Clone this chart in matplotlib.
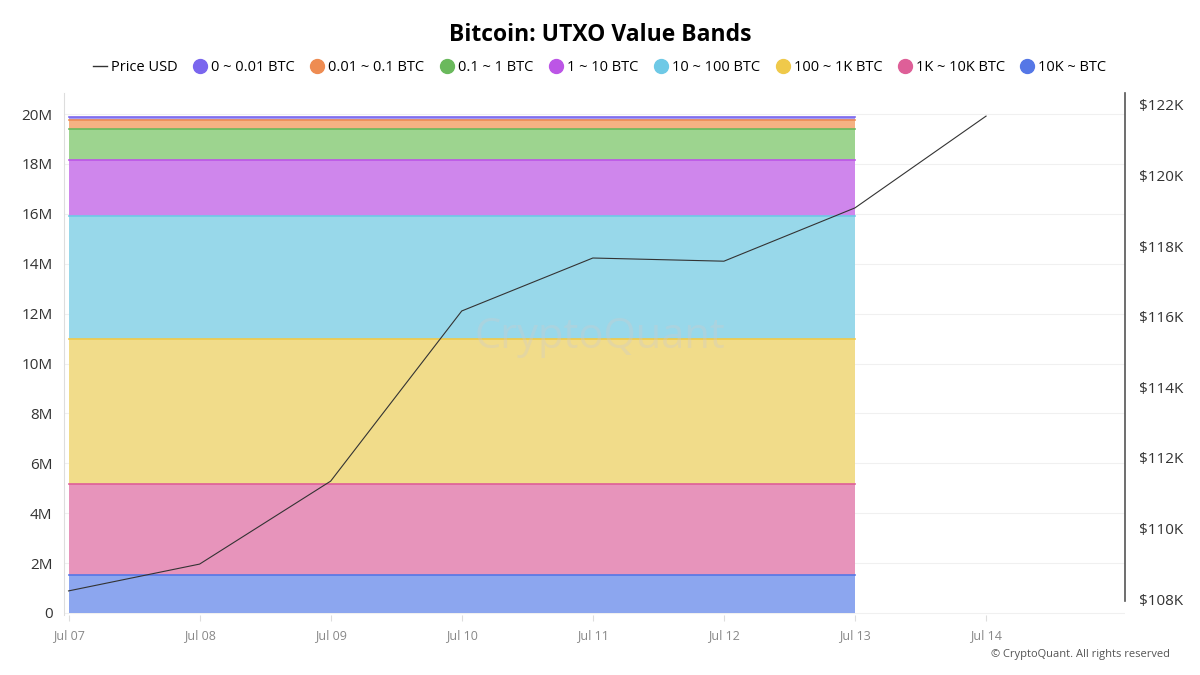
import matplotlib
matplotlib.use("Agg")
import matplotlib.pyplot as plt
import matplotlib.dates as mdates
from matplotlib.lines import Line2D
import numpy as np
import pandas as pd

plt.rcParams['font.family'] = ['Open Sans', 'DejaVu Sans']

dates = pd.date_range("2025-07-07", "2025-07-13", freq="D")
price_dates = pd.date_range("2025-07-07", "2025-07-14", freq="D")

bands = ["10K ~ BTC", "1K ~ 10K BTC", "100 ~ 1K BTC", "10 ~ 100 BTC",
         "1 ~ 10 BTC", "0.1 ~ 1 BTC", "0.01 ~ 0.1 BTC", "0 ~ 0.01 BTC"]
# supply per band in millions of BTC (flat over the week)
band_values = [1.52, 3.65, 5.81, 4.93, 2.25, 1.24, 0.36, 0.12]
price_usd = [108.23, 108.99, 111.34, 116.16, 117.66, 117.57, 119.08, 121.68]  # thousands

line_colors = ["#5577E6", "#DE5F98", "#EFC94A", "#6EC9E6",
               "#BC55E6", "#6AB95C", "#EE8C52", "#7A66EE"]
fill_colors = ["#8CA6EF", "#E794BB", "#F1DC8A", "#98D8EA",
               "#CF86EC", "#9DD48F", "#F5B283", "#A79CF2"]

fig = plt.figure(figsize=(12, 6.75), dpi=100)
ax = fig.add_axes([0.053, 0.089, 0.8845, 0.773])

# background grid on an axis behind everything
axg = ax.twinx()
axg.set_zorder(0)

bottom = np.zeros(len(dates))
for name, v, lc, fc in zip(bands, band_values, line_colors, fill_colors):
    top = bottom + v
    ax.fill_between(dates, bottom, top, color=fc, lw=0, zorder=2)
    ax.plot(dates, top, color=lc, lw=1.2, zorder=3)
    bottom = top

ax.set_ylim(-0.08, 20.84)
ax.set_yticks(np.arange(0, 21, 2))
ax.set_yticklabels(["0"] + [f"{v}M" for v in range(2, 21, 2)])
ax.set_xlim(pd.Timestamp("2025-07-07") - pd.Timedelta(hours=0.9),
            pd.Timestamp("2025-07-07") + pd.Timedelta(days=8.06))
ax.set_xticks(price_dates)
ax.xaxis.set_major_formatter(mdates.DateFormatter("%b %d"))
ax.tick_params(axis="x", colors="#888888", labelsize=9, length=4, color="#dddddd", pad=6)
ax.tick_params(axis="y", colors="#333333", labelsize=11, length=0, pad=8)
for s in ["top", "right", "bottom"]:
    ax.spines[s].set_visible(False)
ax.spines["left"].set_color("#dddddd")
ax.patch.set_visible(False)
ax.set_zorder(2)

axg.set_ylim(ax.get_ylim())
axg.set_yticks(np.arange(0, 21, 2))
axg.grid(axis="y", color="#f0f0f0", lw=0.8)
axg.tick_params(axis="y", length=0, labelright=False)
for s in axg.spines.values():
    s.set_visible(False)

ax2 = ax.twinx()
ax2.plot(price_dates, price_usd, color="#333333", lw=0.8)
ax2.set_ylim(107.55, 122.33)
ax2.set_yticks(np.arange(108, 123, 2))
ax2.set_yticklabels([f"${v}K" for v in range(108, 123, 2)])
ax2.set_zorder(3)
ax2.patch.set_visible(False)
ax2.tick_params(axis="y", colors="#333333", labelsize=11, length=0, pad=10)
for s in ["top", "left", "bottom"]:
    ax2.spines[s].set_visible(False)
ax2.spines["right"].set_color("#555555")
ax2.spines["right"].set_linewidth(1.2)
ax2.spines["right"].set_bounds(107.95, 122.33)

fig.text(0.5, 0.948, "Bitcoin: UTXO Value Bands", ha="center", va="center",
         fontsize=16.5, fontweight="bold")

handles = [Line2D([], [], color="#333333", lw=1, label="Price USD")]
for name, lc in zip(bands[::-1], line_colors[::-1]):
    handles.append(Line2D([], [], ls="none", marker="o", ms=10, color=lc, label=name))
fig.legend(handles=handles, loc="center", bbox_to_anchor=(0.5, 0.9), ncol=9,
           frameon=False, fontsize=10.5, handlelength=0.9, handletextpad=0.3,
           columnspacing=1.1)

fig.text(0.5, 0.5, "CryptoQuant", ha="center", va="center", fontsize=30,
         color="#cccccc", alpha=0.35, zorder=10)
fig.text(0.975, 0.03, "© CryptoQuant. All rights reserved", ha="right",
         va="center", fontsize=8, color="#555555")

fig.savefig("out.png", dpi=100)
